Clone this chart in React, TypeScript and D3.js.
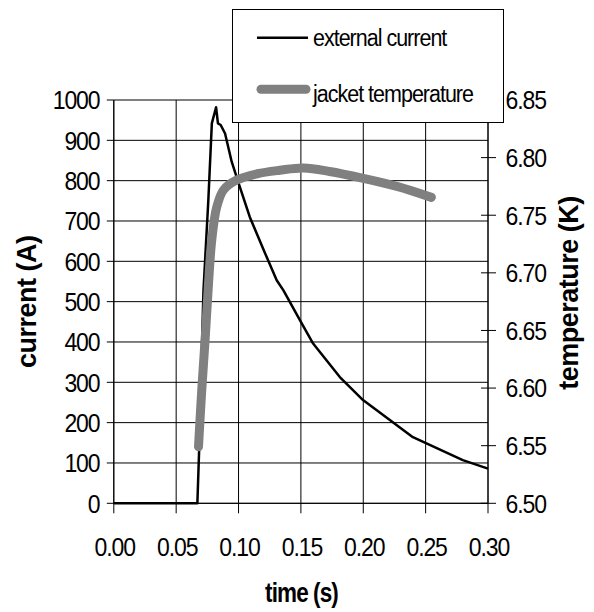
import React from "react";
import * as d3 from "d3";

const currentTime = [0, 0.067, 0.0684, 0.0719, 0.0758, 0.0786, 0.082, 0.0835, 0.0857, 0.0892, 0.0945, 0.0999, 0.109, 0.121, 0.1306, 0.136, 0.1492, 0.1598, 0.1812, 0.1998, 0.2398, 0.2798, 0.3];
const currentValues = [0, 0, 131, 528, 752, 942, 982, 942, 938, 917, 847, 795, 710, 622, 553, 528, 454, 396, 313, 256, 164, 107, 86];

const tempTime = [0.0679, 0.0705, 0.0732, 0.0759, 0.0785, 0.0825, 0.088, 0.0985, 0.115, 0.133, 0.152, 0.173, 0.2, 0.227, 0.2546];
const tempValues = [6.549, 6.598, 6.642, 6.69, 6.728, 6.757, 6.772, 6.7805, 6.786, 6.789, 6.791, 6.788, 6.782, 6.775, 6.7655];

const xTicks = [0, 0.05, 0.1, 0.15, 0.2, 0.25, 0.3];
const yLeftTicks = [0, 100, 200, 300, 400, 500, 600, 700, 800, 900, 1000];
const yRightTicks = [6.5, 6.55, 6.6, 6.65, 6.7, 6.75, 6.8, 6.85];

const FONT = "'Liberation Sans', Arial, sans-serif";

function SText(props: {
  x: number; y: number; sy?: number; anchor?: string; size: number; ls?: number; bold?: boolean; dy?: string; children: React.ReactNode;
}) {
  const { x, y, sy = 1.15, anchor = "start", size, ls = 0, bold = false, dy } = props;
  return (
    <g transform={`translate(${x},${y}) scale(1,${sy})`}>
      <text x={0} y={0} dy={dy} textAnchor={anchor} fontFamily={FONT} fontSize={size} letterSpacing={ls}
        fontWeight={bold ? "bold" : "normal"} fill="#000">
        {props.children}
      </text>
    </g>
  );
}

export default function App() {
  const left = 113.8, right = 488, top = 100, bottom = 503.3;
  const x = d3.scaleLinear().domain([0, 0.3]).range([left, right]);
  const yL = d3.scaleLinear().domain([0, 1000]).range([bottom, top]);
  const yR = d3.scaleLinear().domain([6.5, 6.85]).range([bottom, top]);

  const curLine = d3.line<number>()
    .x((_, i) => x(currentTime[i]))
    .y((d) => yL(d))(currentValues) || "";
  const tempLine = d3.line<number>()
    .x((_, i) => x(tempTime[i]))
    .y((d) => yR(d))
    .curve(d3.curveCatmullRom.alpha(0.5))(tempValues) || "";

  return (
    <svg width={594} height={612} style={{ position: "absolute", left: 0, top: 0, background: "#fff" }}>
      <rect x={0} y={0} width={594} height={612} fill="#fff" />
      {/* gridlines */}
      {xTicks.map((t) => (
        <line key={"gx" + t} x1={x(t)} x2={x(t)} y1={top} y2={bottom} stroke="#000" strokeWidth={1} />
      ))}
      {yLeftTicks.map((t) => (
        <line key={"gy" + t} x1={left} x2={right} y1={yL(t)} y2={yL(t)} stroke="#000" strokeWidth={1} />
      ))}
      {/* axes */}
      <line x1={left} x2={left} y1={top} y2={bottom} stroke="#000" strokeWidth={1} />
      <line x1={right} x2={right} y1={top} y2={bottom} stroke="#000" strokeWidth={1} />
      <line x1={left} x2={right} y1={bottom} y2={bottom} stroke="#000" strokeWidth={1} />
      {/* left ticks */}
      {yLeftTicks.map((t) => (
        <g key={"lt" + t}>
          <line x1={left - 7} x2={left} y1={yL(t)} y2={yL(t)} stroke="#000" />
          <SText x={99.5} y={yL(t)} dy="0.36em" anchor="end" size={23} ls={-1.1} sy={1.13}>
            {t}
          </SText>
        </g>
      ))}
      {/* right ticks */}
      {yRightTicks.map((t) => (
        <g key={"rt" + t}>
          <line x1={right - 7} x2={right + 8} y1={yR(t)} y2={yR(t)} stroke="#000" />
          <SText x={505.5} y={yR(t)} dy="0.36em" size={23} ls={-1.1} sy={1.13}>
            {t.toFixed(2)}
          </SText>
        </g>
      ))}
      {/* bottom ticks */}
      {xTicks.map((t) => (
        <g key={"bt" + t}>
          <line x1={x(t)} x2={x(t)} y1={bottom} y2={bottom + 10} stroke="#000" />
          <SText x={x(t) + 1} y={556} anchor="middle" size={23} ls={-1.1} sy={1.13}>
            {t.toFixed(2)}
          </SText>
        </g>
      ))}
      {/* series */}
      <path d={curLine} fill="none" stroke="#000" strokeWidth={2.5} strokeLinejoin="round" />
      <path d={tempLine} fill="none" stroke="#808080" strokeWidth={9} strokeLinecap="round" strokeLinejoin="round" />
      {/* titles */}
      <SText x={301.5} y={602} anchor="middle" size={22.5} bold ls={-0.9} sy={1.2}>
        time (s)
      </SText>
      <text transform="translate(36,301.7) rotate(-90)" textAnchor="middle" fontFamily={FONT} fontSize={27} fontWeight="bold" letterSpacing={-0.5} fill="#000">
        current (A)
      </text>
      <text transform="translate(578,293) rotate(-90)" textAnchor="middle" fontFamily={FONT} fontSize={27} fontWeight="bold" letterSpacing={-0.5} fill="#000">
        temperature (K)
      </text>
      {/* legend */}
      <rect x={232.5} y={9.5} width={271} height={113} fill="#fff" stroke="#000" strokeWidth={1} />
      <line x1={257} x2={308} y1={37.7} y2={37.7} stroke="#000" strokeWidth={2.5} />
      <SText x={313} y={46} size={21.5} ls={-1} sy={1.15}>
        external current
      </SText>
      <line x1={261} x2={306} y1={89.3} y2={89.3} stroke="#808080" strokeWidth={9} strokeLinecap="round" />
      <SText x={313} y={101.5} size={21.5} ls={-1} sy={1.15}>
        jacket temperature
      </SText>
    </svg>
  );
}
